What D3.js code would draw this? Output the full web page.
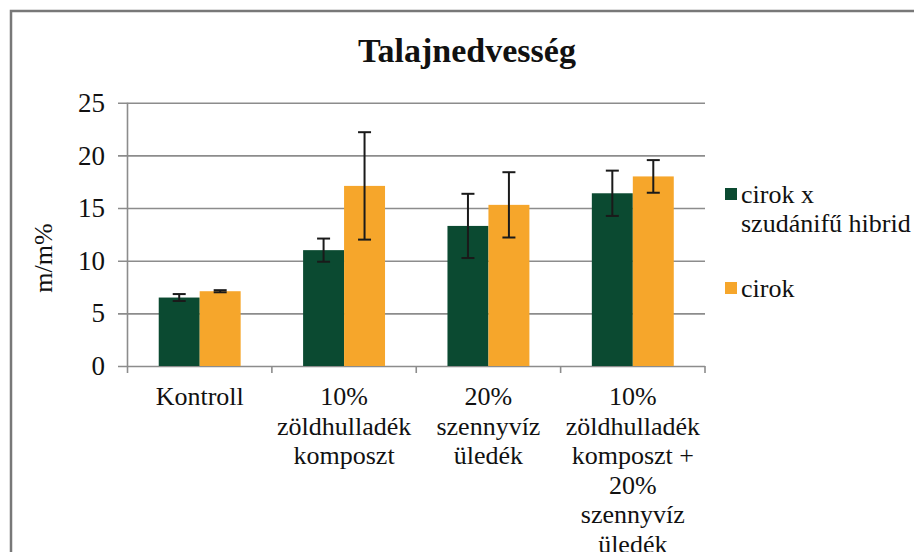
<!DOCTYPE html>
<html>
<head>
<meta charset="utf-8">
<script src="https://cdn.jsdelivr.net/npm/d3@7"></script>
<style>
  html, body { margin: 0; padding: 0; background: #fff; }
  svg, svg text { font-family: "Liberation Serif", "Times New Roman", serif; }
  svg { display: block; }
</style>
</head>
<body>
<div id="chart"></div>
<script>
// data
const categories = [
  ['Kontroll'],
  ['10%', 'zöldhulladék', 'komposzt'],
  ['20%', 'szennyvíz', 'üledék'],
  ['10%', 'zöldhulladék', 'komposzt +', '20%', 'szennyvíz', 'üledék']
];
const seriesNames = ['cirok x szudánifű hibrid', 'cirok'];
const legendLines = [['cirok x', 'szudánifű hibrid'], ['cirok']];
const hybridValues = [6.5, 11.0, 13.3, 16.4];
const hybridErrors = [0.33, 1.1, 3.05, 2.15];
const cirokValues = [7.1, 17.1, 15.3, 18.0];
const cirokErrors = [0.1, 5.1, 3.1, 1.55];
const yTicks = [0, 5, 10, 15, 20, 25];

const colors = ['#0b4a31', '#f6a62b'];
const serif = '"Liberation Serif", "Times New Roman", serif';

const width = 914, height = 552;
const plotLeft = 127.5, plotRight = 705, plotTop = 102.7, plotBottom = 366;

const svg = d3.select('#chart').append('svg')
  .attr('width', width)
  .attr('height', height);

// frame
svg.append('rect')
  .attr('x', 11).attr('y', 11)
  .attr('width', 1000).attr('height', 1000)
  .attr('fill', '#fff')
  .attr('stroke', '#787878')
  .attr('stroke-width', 2.5);

const catKeys = categories.map((c, i) => 'c' + i);

const x0 = d3.scaleBand()
  .domain(catKeys)
  .range([plotLeft, plotRight])
  .paddingInner(0.4325)
  .paddingOuter(0.2163);

const x1 = d3.scaleBand()
  .domain(seriesNames)
  .range([0, x0.bandwidth()]);

const y = d3.scaleLinear()
  .domain([0, 25])
  .range([plotBottom, plotTop]);

// gridlines + y tick labels
const gridLen = plotRight - (plotLeft - 9.5);
const yAxis = svg.append('g')
  .attr('transform', `translate(${plotRight},0)`)
  .call(d3.axisLeft(y).tickValues(yTicks).tickSize(gridLen).tickPadding(13).tickFormat(d3.format('d')));
yAxis.attr('font-family', null).attr('font-size', null);
yAxis.select('.domain').remove();
yAxis.selectAll('.tick line').attr('stroke', '#8c8c8c').attr('stroke-width', 1.6);
yAxis.selectAll('.tick text')
  .attr('fill', '#111')
  .style('font-size', '27px')
  .style('font-family', serif);

// vertical axis line
svg.append('line')
  .attr('x1', plotLeft).attr('x2', plotLeft)
  .attr('y1', y(25)).attr('y2', y(0))
  .attr('stroke', '#8c8c8c').attr('stroke-width', 1.6);

// category boundary ticks on the x axis
const gap = x0.step() - x0.bandwidth();
const bounds = catKeys.map(k => x0(k) - gap / 2).concat([plotRight]);
svg.append('g').selectAll('line')
  .data(bounds)
  .join('line')
  .attr('x1', d => d).attr('x2', d => d)
  .attr('y1', y(0)).attr('y2', y(0) + 7)
  .attr('stroke', '#8c8c8c').attr('stroke-width', 1.6);

// bars
const rows = catKeys.map((k, i) => ({
  key: k,
  items: [
    { s: seriesNames[0], v: hybridValues[i], e: hybridErrors[i], c: colors[0] },
    { s: seriesNames[1], v: cirokValues[i], e: cirokErrors[i], c: colors[1] }
  ]
}));

const groups = svg.append('g').selectAll('g')
  .data(rows)
  .join('g')
  .attr('transform', d => `translate(${x0(d.key)},0)`);

groups.selectAll('rect')
  .data(d => d.items)
  .join('rect')
  .attr('x', d => x1(d.s))
  .attr('y', d => y(d.v))
  .attr('width', x1.bandwidth())
  .attr('height', d => y(0) - y(d.v))
  .attr('fill', d => d.c);

// error bars
const cap = 6.5;
const eb = groups.selectAll('g.err')
  .data(d => d.items)
  .join('g')
  .attr('class', 'err')
  .attr('stroke', '#1a1a1a')
  .attr('stroke-width', 2);
eb.append('line')
  .attr('x1', d => x1(d.s) + x1.bandwidth() / 2)
  .attr('x2', d => x1(d.s) + x1.bandwidth() / 2)
  .attr('y1', d => y(d.v + d.e))
  .attr('y2', d => y(d.v - d.e));
eb.append('line')
  .attr('x1', d => x1(d.s) + x1.bandwidth() / 2 - cap)
  .attr('x2', d => x1(d.s) + x1.bandwidth() / 2 + cap)
  .attr('y1', d => y(d.v + d.e))
  .attr('y2', d => y(d.v + d.e));
eb.append('line')
  .attr('x1', d => x1(d.s) + x1.bandwidth() / 2 - cap)
  .attr('x2', d => x1(d.s) + x1.bandwidth() / 2 + cap)
  .attr('y1', d => y(d.v - d.e))
  .attr('y2', d => y(d.v - d.e));

// category labels
const labels = svg.append('g').selectAll('text')
  .data(categories)
  .join('text')
  .attr('text-anchor', 'middle')
  .attr('fill', '#111')
  .style('font-size', '26px')
  .style('font-family', serif)
  .attr('transform', (d, i) => `translate(${x0(catKeys[i]) + x0.bandwidth() / 2},${y(0) + 39})`);
labels.selectAll('tspan')
  .data(d => d)
  .join('tspan')
  .attr('x', 0)
  .attr('y', (d, i) => i * 29.5)
  .text(d => d);

// title
svg.append('text')
  .attr('x', 467).attr('y', 62)
  .attr('text-anchor', 'middle')
  .attr('fill', '#111')
  .style('font-size', '34px')
  .style('font-weight', 'bold')
  .style('font-family', serif)
  .text('Talajnedvesség');

// y label
svg.append('text')
  .attr('transform', 'translate(52,258) rotate(-90)')
  .attr('text-anchor', 'middle')
  .attr('fill', '#111')
  .style('font-size', '26px')
  .style('font-family', serif)
  .text('m/m%');

// legend
const legend = svg.append('g').selectAll('g')
  .data(legendLines)
  .join('g')
  .attr('transform', (d, i) => `translate(725,${i === 0 ? 188 : 282})`);
legend.append('rect')
  .attr('width', 12).attr('height', 12)
  .attr('fill', (d, i) => colors[i]);
legend.append('text')
  .attr('fill', '#111')
  .style('font-size', '26px')
  .style('font-family', serif)
  .selectAll('tspan')
  .data(d => d)
  .join('tspan')
  .attr('x', 16)
  .attr('y', (d, i) => 15 + i * 29)
  .text(d => d);
</script>
</body>
</html>
